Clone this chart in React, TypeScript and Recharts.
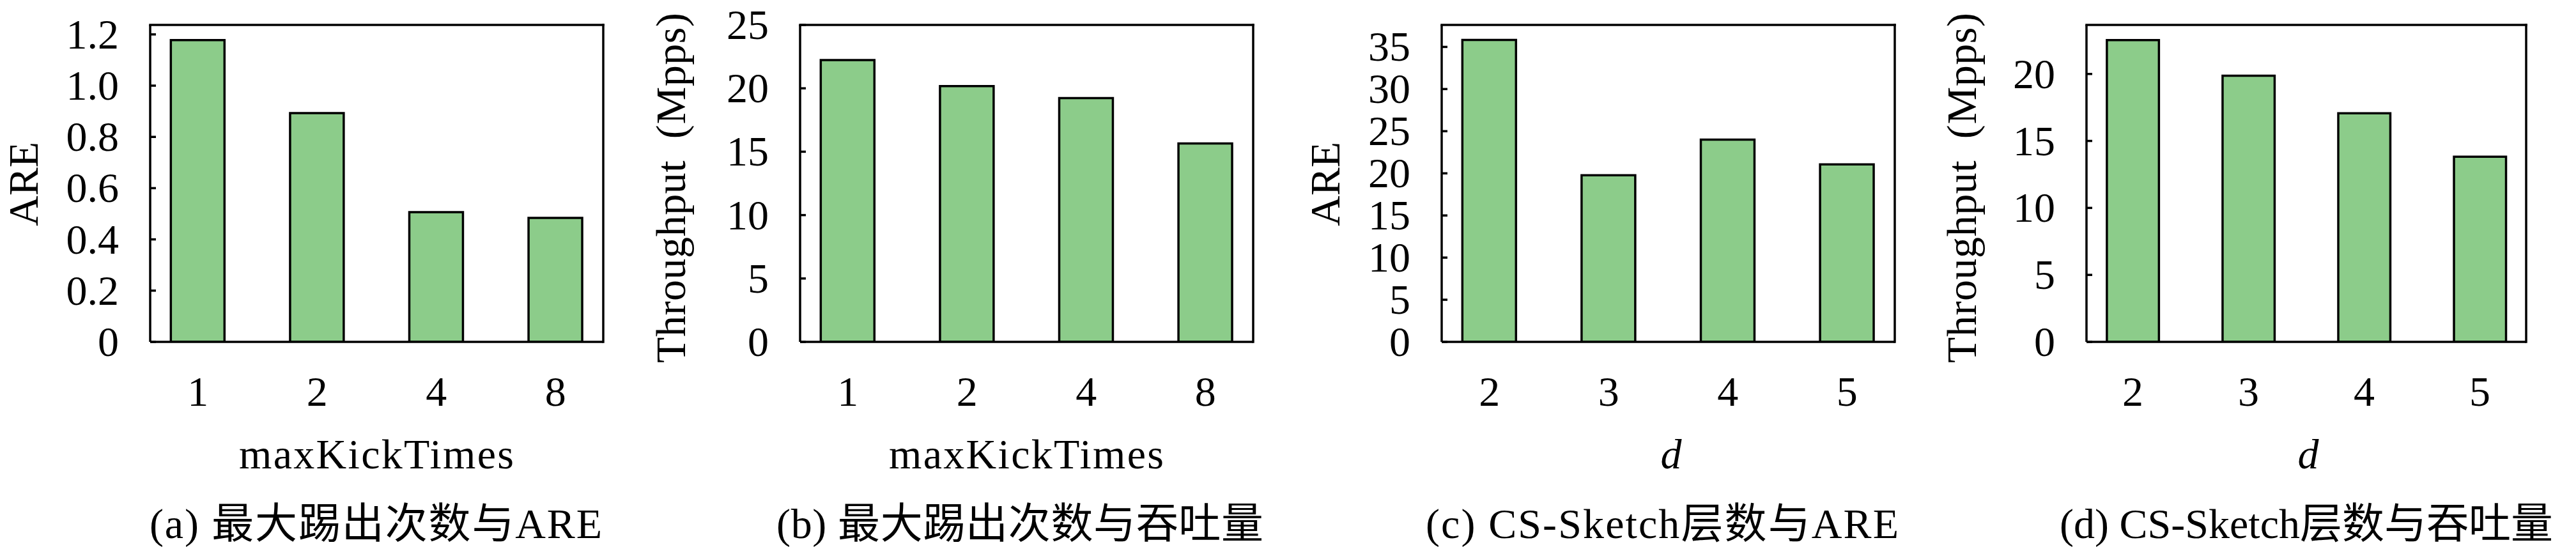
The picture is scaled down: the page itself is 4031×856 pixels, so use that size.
import React from "react"
import { BarChart, Bar, XAxis, YAxis, ReferenceLine } from "recharts"

// values
const kickTimes = ["1", "2", "4", "8"]
const layers = ["2", "3", "4", "5"]
const kickAre = [1.178, 0.893, 0.506, 0.484]
const kickThroughput = [22.23, 20.17, 19.23, 15.65]
const layerAre = [35.82, 19.78, 24.0, 21.07]
const layerThroughput = [22.53, 19.87, 17.06, 13.82]

const kickAreTicks = [0, 0.2, 0.4, 0.6, 0.8, 1.0, 1.2]
const kickAreTickLabels = ["0", "0.2", "0.4", "0.6", "0.8", "1.0", "1.2"]
const kickThroughputTicks = [0, 5, 10, 15, 20, 25]
const layerAreTicks = [0, 5, 10, 15, 20, 25, 30, 35]
const layerThroughputTicks = [0, 5, 10, 15, 20]

const FONT = "'Liberation Serif', 'Noto Sans CJK SC', serif"
const FS = 66
const TOP = 39
const BOTTOM = 535
const AXIS_W = 260
const RIGHT_PAD = 20
const LINE = 3.5
const GREEN = "#8ccc8a"

function XTick({ x, payload, cats }: any) {
  return (
    <text x={x} y={BOTTOM + 100} textAnchor="middle" fontFamily={FONT} fontSize={FS} fill="#000">
      {cats[payload.value - 1]}
    </text>
  )
}

function YTick({ y, payload, ticks, labels }: any) {
  const i = ticks.indexOf(payload.value)
  return (
    <g>
      <line x1={AXIS_W} x2={AXIS_W + 9} y1={y} y2={y} stroke="#000" strokeWidth={LINE} />
      <text x={AXIS_W - 49} y={y + 22} textAnchor="end" fontFamily={FONT} fontSize={FS} fill="#000">
        {labels ? labels[i] : String(payload.value)}
      </text>
    </g>
  )
}

interface PanelProps {
  left: number
  right: number
  cats: string[]
  values: number[]
  ticks: number[]
  labels?: string[]
  yMax: number
}

function Panel({ left, right, cats, values, ticks, labels, yMax }: PanelProps) {
  const plotW = right - left
  const data = cats.map((c, i) => ({ x: i + 1, name: c, value: values[i] }))
  const barSize = (0.45 * plotW) / 3.8
  const axisStyle = { stroke: "#000", strokeWidth: LINE }
  return (
    <div style={{ position: "absolute", left: left - AXIS_W, top: 0 }}>
      <BarChart
        width={plotW + AXIS_W + RIGHT_PAD}
        height={856}
        data={data}
        margin={{ top: TOP, right: RIGHT_PAD, bottom: 856 - BOTTOM - 40, left: 0 }}
      >
        <XAxis
          type="number"
          dataKey="x"
          domain={[0.6, 4.4]}
          ticks={[1, 2, 3, 4]}
          interval={0}
          allowDataOverflow
          height={40}
          axisLine={axisStyle}
          tickLine={false}
          tickSize={0}
          tick={<XTick cats={cats} />}
        />
        <YAxis
          type="number"
          domain={[0, yMax]}
          ticks={ticks}
          interval={0}
          allowDataOverflow
          width={AXIS_W}
          axisLine={axisStyle}
          tickLine={false}
          tickSize={0}
          tick={<YTick ticks={ticks} labels={labels} />}
        />
        <ReferenceLine y={yMax} stroke="#000" strokeWidth={LINE} strokeLinecap="square" />
        <ReferenceLine x={4.4} stroke="#000" strokeWidth={LINE} strokeLinecap="square" />
        <Bar dataKey="value" fill={GREEN} stroke="#000" strokeWidth={LINE} barSize={barSize} isAnimationActive={false} />
      </BarChart>
    </div>
  )
}

const txt = { fontFamily: FONT, fontSize: FS, fill: "#000" }

export default function App() {
  return (
    <div style={{ position: "relative", width: 4031, height: 856, background: "#fff", overflow: "hidden" }}>
      <style>{"body{margin:0}"}</style>
      <Panel left={235} right={944} cats={kickTimes} values={kickAre} ticks={kickAreTicks} labels={kickAreTickLabels} yMax={1.237} />
      <Panel left={1252} right={1961} cats={kickTimes} values={kickThroughput} ticks={kickThroughputTicks} yMax={25} />
      <Panel left={2256} right={2965} cats={layers} values={layerAre} ticks={layerAreTicks} yMax={37.61} />
      <Panel left={3265} right={3953} cats={layers} values={layerThroughput} ticks={layerThroughputTicks} yMax={23.66} />
      <svg width={4031} height={856} style={{ position: "absolute", left: 0, top: 0, pointerEvents: "none" }}>
        <text {...txt} x={59} y={288} textAnchor="middle" transform="rotate(-90 59 288)">ARE</text>
        <text {...txt} x={1072} y={568} textAnchor="start" textLength={548} lengthAdjust="spacing" transform="rotate(-90 1072 568)">
          Throughput{"\u2002"}(Mpps)
        </text>
        <text {...txt} x={2096} y={288} textAnchor="middle" transform="rotate(-90 2096 288)">ARE</text>
        <text {...txt} x={3092} y={568} textAnchor="start" textLength={548} lengthAdjust="spacing" transform="rotate(-90 3092 568)">
          Throughput{"\u2002"}(Mpps)
        </text>

        <text {...txt} x={589} y={733} textAnchor="middle" textLength={430} lengthAdjust="spacing">maxKickTimes</text>
        <text {...txt} x={1606} y={733} textAnchor="middle" textLength={430} lengthAdjust="spacing">maxKickTimes</text>
        <text {...txt} x={2615} y={733} textAnchor="middle" fontStyle="italic">d</text>
        <text {...txt} x={3612} y={733} textAnchor="middle" fontStyle="italic">d</text>

        <text {...txt} x={588} y={842} textAnchor="middle" textLength={708} lengthAdjust="spacing">(a) 最大踢出次数与ARE</text>
        <text {...txt} x={1596} y={842} textAnchor="middle" textLength={762} lengthAdjust="spacing">(b) 最大踢出次数与吞吐量</text>
        <text {...txt} x={2601} y={842} textAnchor="middle" textLength={740} lengthAdjust="spacing">(c) CS-Sketch层数与ARE</text>
        <text {...txt} x={3609} y={842} textAnchor="middle" textLength={772} lengthAdjust="spacing">(d) CS-Sketch层数与吞吐量</text>
      </svg>
    </div>
  )
}
